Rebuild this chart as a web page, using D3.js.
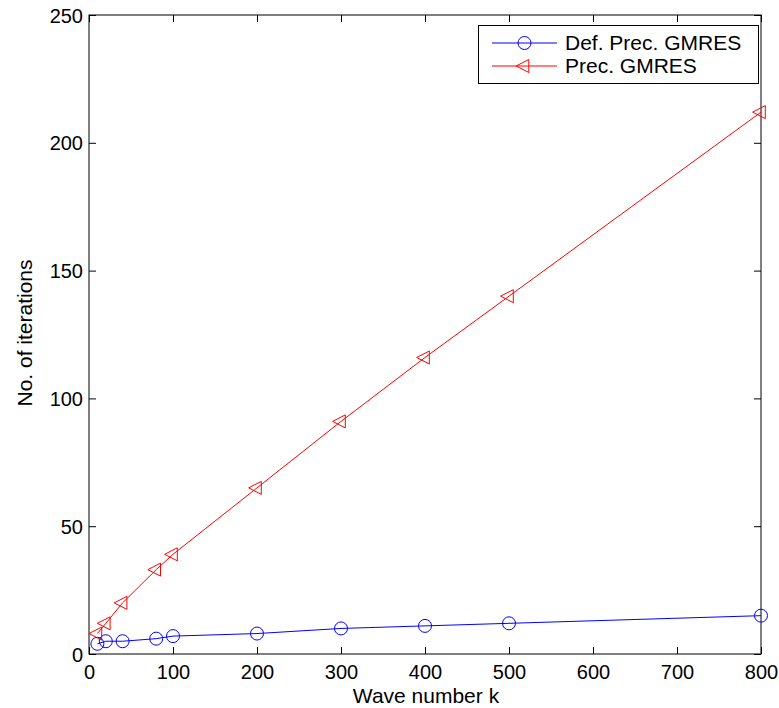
<!DOCTYPE html>
<html>
<head>
<meta charset="utf-8">
<script src="https://cdn.jsdelivr.net/npm/d3@7"></script>
<style>
html,body{margin:0;padding:0;background:#fff;}
svg{display:block;font-family:"Liberation Sans",Arial,Helvetica,sans-serif;}
</style>
</head>
<body>
<svg id="chart" width="779" height="708"></svg>
<script>
const waveNumbers = [10, 20, 40, 80, 100, 200, 300, 400, 500, 800];
const defPrecGmres = [4, 5, 5, 6, 7, 8, 10, 11, 12, 15];
const precGmres = [8, 12, 20, 33, 39, 65, 91, 116, 140, 212];
const xTicks = [0, 100, 200, 300, 400, 500, 600, 700, 800];
const yTicks = [0, 50, 100, 150, 200, 250];
const seriesNames = ["Def. Prec. GMRES", "Prec. GMRES"];

const svg = d3.select("#chart");
const L = 89, R = 761, T = 15, B = 654;
const x = d3.scaleLinear().domain([0, 800]).range([L, R]);
const y = d3.scaleLinear().domain([0, 250]).range([B, T]);
const tickLen = 7;
const tickFs = 20, labelFs = 21;

// axes (inner ticks, mirrored)
const gx = svg.append("g").attr("transform", `translate(0,${B})`)
  .call(d3.axisBottom(x).tickValues(xTicks).tickSizeInner(-tickLen).tickSizeOuter(0));
const gxt = svg.append("g").attr("transform", `translate(0,${T})`)
  .call(d3.axisTop(x).tickValues(xTicks).tickSizeInner(-tickLen).tickSizeOuter(0).tickFormat(""));
const gy = svg.append("g").attr("transform", `translate(${L},0)`)
  .call(d3.axisLeft(y).tickValues(yTicks).tickSizeInner(-tickLen).tickSizeOuter(0).tickPadding(6));
const gyr = svg.append("g").attr("transform", `translate(${R},0)`)
  .call(d3.axisRight(y).tickValues(yTicks).tickSizeInner(-tickLen).tickSizeOuter(0).tickFormat(""));
[gx, gxt, gy, gyr].forEach(g => {
  g.selectAll(".domain").remove();
  g.selectAll("line").attr("stroke", "#000").attr("stroke-width", 1);
  g.selectAll("text").attr("font-size", tickFs).attr("fill", "#000")
    .attr("font-family", '"Liberation Sans",Arial,sans-serif');
});
gx.selectAll("text").attr("y", 25).attr("dy", 0);
gy.selectAll("text").attr("dy", "0.35em");

svg.append("rect").attr("x", L).attr("y", T).attr("width", R - L).attr("height", B - T)
  .attr("fill", "none").attr("stroke", "#000").attr("stroke-width", 1);

// axis labels
svg.append("text").attr("x", 426).attr("y", 703).attr("text-anchor", "middle")
  .attr("font-size", labelFs).text("Wave number k");
svg.append("text").attr("transform", `translate(32,333) rotate(-90)`)
  .attr("text-anchor", "middle").attr("font-size", labelFs).text("No. of iterations");

const line = d3.line().x(d => x(d[0])).y(d => y(d[1]));
const blueData = waveNumbers.map((k, i) => [k, defPrecGmres[i]]);
const redData = waveNumbers.map((k, i) => [k, precGmres[i]]);

const triPath = "M-8.4,0L4.3,-6.5L4.3,6.5Z";

svg.append("path").datum(blueData).attr("d", line).attr("fill", "none")
  .attr("stroke", "#0000ff").attr("stroke-width", 1);
svg.append("g").selectAll("circle").data(blueData).join("circle")
  .attr("cx", d => x(d[0])).attr("cy", d => y(d[1])).attr("r", 6.5)
  .attr("fill", "none").attr("stroke", "#0000ff").attr("stroke-width", 1);

svg.append("path").datum(redData).attr("d", line).attr("fill", "none")
  .attr("stroke", "#ff0000").attr("stroke-width", 1);
svg.append("g").selectAll("path").data(redData).join("path")
  .attr("transform", d => `translate(${x(d[0])},${y(d[1])})`).attr("d", triPath)
  .attr("fill", "none").attr("stroke", "#ff0000").attr("stroke-width", 1);

// legend
const lg = svg.append("g");
lg.append("rect").attr("x", 478.5).attr("y", 25.5).attr("width", 280).attr("height", 58)
  .attr("fill", "#fff").attr("stroke", "#000").attr("stroke-width", 1);
const colors = ["#0000ff", "#ff0000"];
const ly = [43, 66];
const lb = [49.5, 73];
seriesNames.forEach((name, i) => {
  lg.append("line").attr("x1", 492).attr("x2", 557).attr("y1", ly[i]).attr("y2", ly[i])
    .attr("stroke", colors[i]).attr("stroke-width", 1);
  if (i === 0) {
    lg.append("circle").attr("cx", 524.5).attr("cy", ly[i]).attr("r", 6.5)
      .attr("fill", "none").attr("stroke", colors[i]);
  } else {
    lg.append("path").attr("transform", `translate(524.5,${ly[i]})`).attr("d", triPath)
      .attr("fill", "none").attr("stroke", colors[i]);
  }
  lg.append("text").attr("x", 565).attr("y", lb[i])
    .attr("font-size", labelFs).text(name);
});
</script>
</body>
</html>
